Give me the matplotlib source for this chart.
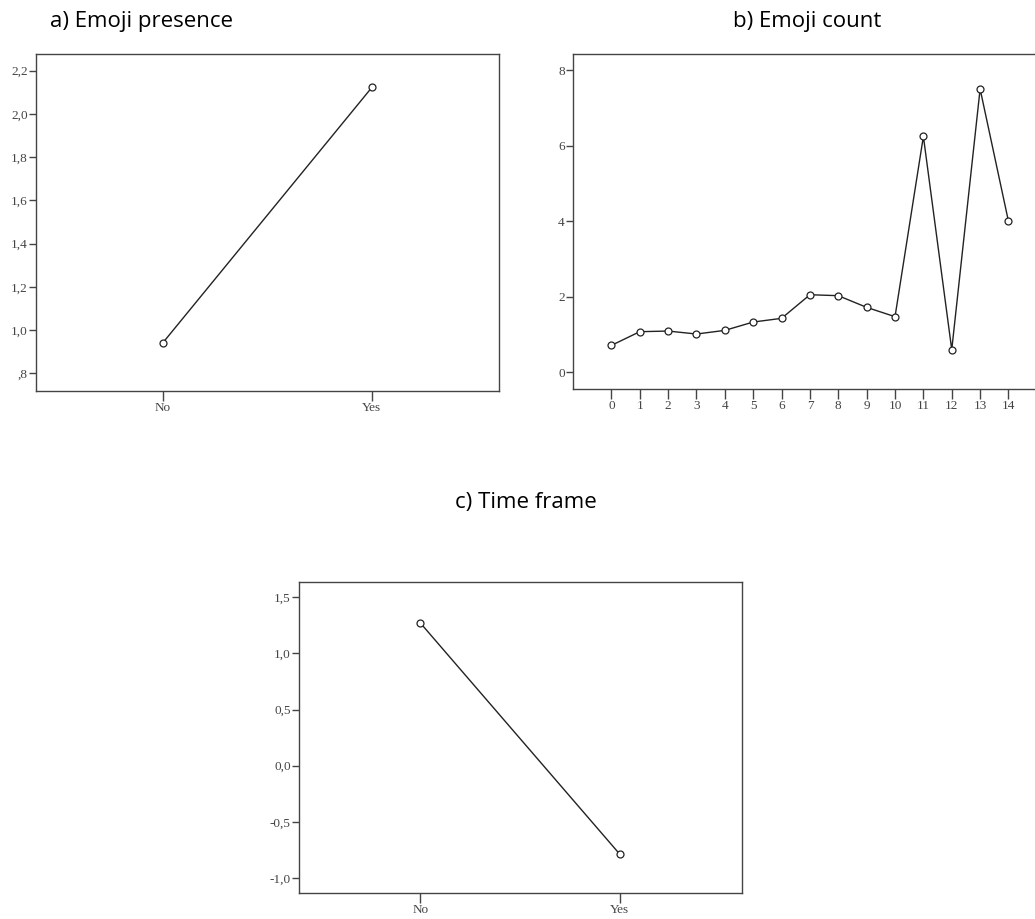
import numpy as np
import matplotlib
matplotlib.use('Agg')
import matplotlib.pyplot as plt
from matplotlib.ticker import FuncFormatter

# data
cats_yn = ['No', 'Yes']
presence = [0.942, 2.123]
count_x = list(range(15))
count_y = [0.707, 1.07, 1.087, 1.008, 1.105, 1.326, 1.424, 2.05, 2.025,
           1.715, 1.468, 6.25, 0.592, 7.507, 3.996]
timeframe = [1.271, -0.786]

W, H = 1035, 919
fig = plt.figure(figsize=(W/100., H/100.), dpi=100)

def px_axes(l, t, r, b):
	return fig.add_axes([l/W, 1-b/H, (r-l)/W, (b-t)/H])

def comma(fmt, strip0=False):
	def f(v, pos):
		s = fmt % v
		s = s.replace('.', ',')
		if strip0 and s.startswith('0,'):
			s = s[1:]
		return s
	return FuncFormatter(f)

def style(ax):
	for s in ax.spines.values():
		s.set_color('#444444')
		s.set_linewidth(1.0)
	ax.tick_params(direction='out', width=1, color='#444444',
		labelsize=9.5, labelcolor='#444444')
	ax.tick_params(axis='y', length=5, pad=1)
	ax.tick_params(axis='x', length=7, pad=1)
	for lab in ax.get_xticklabels()+ax.get_yticklabels():
		lab.set_family('Liberation Serif')

def draw(ax, x, y):
	ax.plot(x, y, color='#222222', lw=1.0, marker='o', ms=5,
		mfc='white', mec='#222222', mew=0.9)

# a) Emoji presence
ax1 = px_axes(36, 54, 499, 391)
draw(ax1, [0, 1], presence)
ax1.set_xlim(-0.608, 1.608)
ax1.set_ylim(0.718, 2.277)
ax1.set_xticks([0, 1])
ax1.set_xticklabels(cats_yn)
ax1.set_yticks(np.arange(0.8, 2.21, 0.2))
ax1.yaxis.set_major_formatter(comma('%.1f', strip0=True))
style(ax1)

# b) Emoji count
ax2 = px_axes(573, 54, 1034, 389)
draw(ax2, count_x, count_y)
ax2.set_xlim(-1.354, 14.9)
ax2.set_ylim(-0.45, 8.435)
ax2.set_xticks(count_x)
ax2.set_yticks([0, 2, 4, 6, 8])
ax2.spines['right'].set_visible(False)
style(ax2)

# c) Time frame
ax3 = px_axes(299, 582, 742, 893)
draw(ax3, [0, 1], timeframe)
ax3.set_xlim(-0.61, 1.615)
ax3.set_ylim(-1.134, 1.637)
ax3.set_xticks([0, 1])
ax3.set_xticklabels(cats_yn)
ax3.set_yticks(np.arange(-1.0, 1.51, 0.5))
ax3.yaxis.set_major_formatter(comma('%.1f'))
style(ax3)

tfont = dict(family='Open Sans', fontsize=16, color='black', ha='center', va='center')
fig.text(141/W, 1-21/H, 'a) Emoji presence', **tfont)
fig.text(807/W, 1-21/H, 'b) Emoji count', **tfont)
fig.text(526/W, 1-502/H, 'c) Time frame', **tfont)

fig.savefig('out.png', dpi=100)
